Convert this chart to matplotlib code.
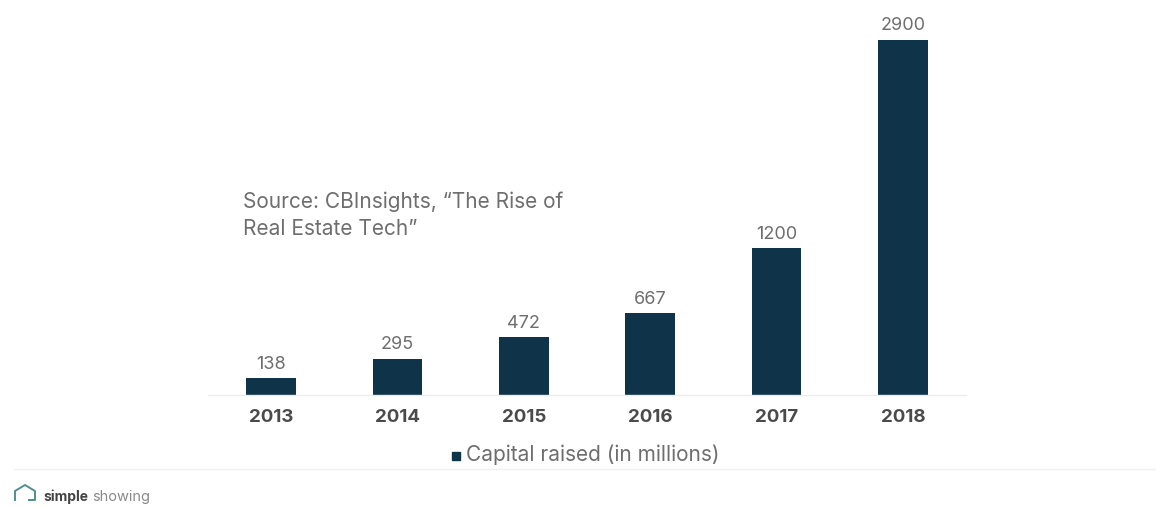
import matplotlib
matplotlib.use("Agg")
import matplotlib.pyplot as plt
from matplotlib.lines import Line2D

years = ["2013", "2014", "2015", "2016", "2017", "2018"]
capital = [138, 295, 472, 667, 1200, 2900]

W, H = 1156, 508
BAR = "#0f3349"
GREY = "#6e6e6e"
plt.rcParams["font.family"] = ["Inter", "DejaVu Sans"]

fig = plt.figure(figsize=(W / 100, H / 100), dpi=100, facecolor="white")
L, R, B, T = 208, 966, 395, 40
ax = fig.add_axes([L / W, 1 - B / H, (R - L) / W, (B - T) / H])
xs = range(len(years))
bars = ax.bar(xs, capital, width=0.395, color=BAR)
ax.set_xlim(-0.5, 5.5)
ax.set_ylim(0, 2900)
ax.bar_label(bars, labels=[str(v) for v in capital], padding=4, fontsize=13, color=GREY)
ax.set_xticks(list(xs), years, fontsize=13.5, fontweight="bold", color="#4a4a4a")
ax.tick_params(axis="x", length=0, pad=10)
ax.set_yticks([])
for s in ["top", "left", "right"]:
    ax.spines[s].set_visible(False)
ax.spines["bottom"].set_color("#ececec")
ax.spines["bottom"].set_linewidth(1)

def px(x, y):
    return x / W, 1 - y / H

fig.text(*px(243, 202), "Source: CBInsights, \u201cThe Rise of", fontsize=15, color=GREY, va="center")
fig.text(*px(243, 229), "Real Estate Tech\u201d", fontsize=15, color=GREY, va="center")

fig.add_artist(Line2D([px(456, 0)[0]], [px(0, 456)[1]], marker="s", ms=5.5, color=BAR, ls="none"))
fig.text(*px(466, 455), "Capital raised (in millions)", fontsize=15, color=GREY, va="center")

fig.add_artist(Line2D([px(14, 0)[0], 1], [px(0, 469)[1]] * 2, color="#f0f0f0", lw=1))

house_x = [15, 15, 25, 35, 35, 29]
house_y = [500, 491, 485, 491, 500, 500]
fig.add_artist(Line2D([px(x, 0)[0] for x in house_x], [px(0, y)[1] for y in house_y],
                      color="#4f8f8c", lw=1.4))
fig.text(*px(43, 497), "simple", fontsize=10, fontweight="bold", color="#444444", va="center")
fig.text(*px(92, 497), "showing", fontsize=10.5, color="#8a8a8a", va="center")

fig.savefig("out.png", dpi=100, facecolor="white")
